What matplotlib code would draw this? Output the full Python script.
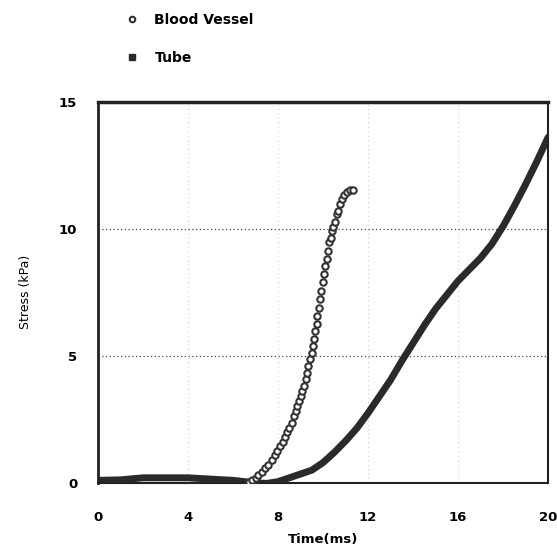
import numpy as np
import matplotlib
matplotlib.use('Agg')
import matplotlib.pyplot as plt
from matplotlib.lines import Line2D

plt.rcParams['font.family'] = ['DejaVu Sans']

# Tube: stress (kPa) vs time (ms)
tube_t = [0, 1, 2, 3, 4, 5, 6, 6.5, 7, 7.5, 8, 8.5, 9, 9.5, 10, 10.5, 11, 11.5,
          12, 12.5, 13, 13.5, 14, 14.5, 15, 15.5, 16, 16.5, 17, 17.5, 18, 18.5,
          19, 19.5, 20]
tube_s = [0.1, 0.12, 0.2, 0.2, 0.2, 0.15, 0.1, 0.05, 0.0, -0.02, 0.05, 0.2, 0.35,
          0.5, 0.8, 1.2, 1.65, 2.15, 2.75, 3.4, 4.05, 4.8, 5.5, 6.2, 6.85, 7.4,
          7.95, 8.4, 8.85, 9.4, 10.1, 10.9, 11.75, 12.65, 13.6]

# Blood vessel (open circles)
vessel_t = [6.7, 6.85, 7.0, 7.13, 7.27, 7.42, 7.57, 7.72, 7.87, 7.97, 8.09, 8.21,
            8.31, 8.41, 8.50, 8.61, 8.71, 8.80, 8.86, 8.95, 9.01, 9.08, 9.16,
            9.24, 9.30, 9.35, 9.42, 9.50, 9.54, 9.60, 9.64, 9.72, 9.75, 9.81,
            9.87, 9.92, 9.99, 10.04, 10.10, 10.16, 10.22, 10.28, 10.34, 10.41,
            10.46, 10.53, 10.61, 10.68, 10.76, 10.83, 10.93, 11.05, 11.2, 11.35]
vessel_s = [0.05, 0.12, 0.2, 0.3, 0.41, 0.58, 0.71, 0.91, 1.11, 1.24, 1.44, 1.61,
            1.81, 1.99, 2.16, 2.36, 2.62, 2.82, 3.02, 3.21, 3.41, 3.61, 3.81,
            4.07, 4.34, 4.60, 4.86, 5.13, 5.39, 5.68, 5.98, 6.25, 6.57, 6.90,
            7.23, 7.56, 7.89, 8.22, 8.55, 8.81, 9.14, 9.47, 9.63, 9.93, 10.07,
            10.26, 10.59, 10.72, 10.99, 11.19, 11.32, 11.45, 11.51, 11.51]

xticks = [0, 4, 8, 12, 16, 20]
yticks = [0, 5, 10, 15]

fig = plt.figure(figsize=(5.57, 5.5), dpi=100)
ax = fig.add_axes([0.176, 0.122, 0.808, 0.693])

# faint vertical grid, darker horizontal dotted grid
for x in xticks[1:-1]:
    ax.axvline(x, color='#d0d0d0', lw=0.8, ls=(0, (1, 3)), zorder=0)
for y in [5, 10]:
    ax.axhline(y, color='#444444', lw=0.9, ls=(0, (1, 2)), zorder=0)

ax.plot(tube_t, tube_s, color='#2a2a2a', lw=5, solid_capstyle='round',
        solid_joinstyle='round', zorder=2)
ax.plot(vessel_t, vessel_s, ls='none', marker='o', ms=4.6, mfc='white',
        mec='#333333', mew=1.5, zorder=3)

ax.set_xlim(0, 20)
ax.set_ylim(0, 15)
ax.set_xticks(xticks)
ax.set_yticks(yticks)
ax.tick_params(length=0, labelsize=9.5)
ax.tick_params(axis='x', pad=20)
ax.tick_params(axis='y', pad=15)
for lab in ax.get_xticklabels() + ax.get_yticklabels():
    lab.set_fontweight('bold')

ax.set_xlabel('Time(ms)', fontsize=9.5, fontweight='bold', labelpad=7)
ax.set_ylabel('Stress (kPa)', fontsize=9, labelpad=19)

for side, w in [('top', 2.5), ('left', 2.0), ('right', 1.5), ('bottom', 1.5)]:
    ax.spines[side].set_linewidth(w)
    ax.spines[side].set_color('#222222')

handles = [
    Line2D([], [], ls='none', marker='o', ms=4, mfc='white', mec='#333333', mew=1.5),
    Line2D([], [], ls='none', marker='s', ms=4, color='#2a2a2a'),
]
fig.legend(handles, ['Blood Vessel', 'Tube'], loc='upper left',
           bbox_to_anchor=(0.205, 1.0), frameon=False, labelspacing=1.75,
           handlelength=0.8, handletextpad=1.2,
           prop={'size': 10, 'weight': 'bold'})

fig.savefig('out.png', dpi=100)
